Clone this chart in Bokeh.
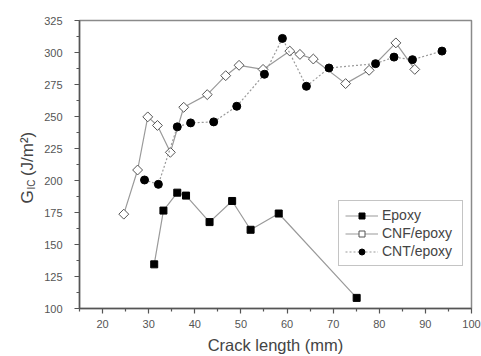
import math
from bokeh.plotting import figure
from bokeh.models import Range1d, FixedTicker, Label, Legend, LegendItem
from bokeh.embed import file_html
from bokeh.resources import INLINE

# Data
epoxy_x = [31.2, 33.2, 36.2, 38.1, 43.2, 48.1, 52.1, 58.2, 75.1]
epoxy_y = [134.5, 176.5, 190.5, 188.2, 167.5, 184.0, 161.5, 174.2, 108.3]

cnf_x = [24.6, 27.6, 29.8, 31.9, 34.7, 37.6, 42.7, 46.7, 49.6, 54.8, 60.6, 62.8, 65.7, 72.7, 77.8, 83.6, 87.7]
cnf_y = [173.7, 208.2, 249.7, 243.0, 222.0, 257.2, 267.1, 281.9, 290.0, 286.8, 301.1, 298.5, 294.9, 275.7, 286.1, 307.5, 286.8]

cnt_x = [29.1, 32.1, 36.2, 39.1, 44.1, 49.1, 55.1, 59.0, 64.2, 69.1, 79.2, 83.2, 87.2, 93.6]
cnt_y = [200.4, 197.0, 241.9, 245.0, 245.8, 258.0, 283.0, 311.0, 273.6, 287.9, 291.3, 296.4, 294.4, 301.1]

x_ticks = [20, 30, 40, 50, 60, 70, 80, 90, 100]
x_minor = [15, 25, 35, 45, 55, 65, 75, 85, 95]
y_ticks = [100, 125, 150, 175, 200, 225, 250, 275, 300, 325]
y_minor = [112.5, 137.5, 162.5, 187.5, 212.5, 237.5, 262.5, 287.5, 312.5]

FONT = "Liberation Sans"
AX = "#555555"
LINE = "#9a9a9a"

p = figure(width=481, height=356, output_backend="svg", toolbar_location=None,
           x_range=Range1d(15, 100), y_range=Range1d(100, 325),
           min_border_left=79, min_border_right=10, min_border_top=20, min_border_bottom=47)
p.background_fill_color = "white"
p.border_fill_color = "white"
p.outline_line_color = "#8a8a8a"
p.outline_line_width = 1.5
p.xgrid.visible = False
p.ygrid.visible = False

p.xaxis.ticker = FixedTicker(ticks=x_ticks, minor_ticks=x_minor)
p.yaxis.ticker = FixedTicker(ticks=y_ticks, minor_ticks=y_minor)
for ax in (p.xaxis[0], p.yaxis[0]):
    ax.axis_line_color = AX
    ax.axis_line_width = 1.5
    ax.major_tick_line_color = AX
    ax.minor_tick_line_color = AX
    ax.major_tick_line_width = 1.2
    ax.minor_tick_line_width = 1.2
    ax.major_tick_out = 5
    ax.major_tick_in = 0
    ax.minor_tick_out = 3
    ax.minor_tick_in = 0
    ax.major_label_text_font = FONT
    ax.major_label_text_font_size = "11px"
    ax.major_label_text_color = "#555555"
p.yaxis.major_label_standoff = 12
p.xaxis.major_label_standoff = 6
p.xaxis.axis_label = "Crack length (mm)"
p.xaxis.axis_label_text_font = FONT
p.xaxis.axis_label_text_font_size = "16.5px"
p.xaxis.axis_label_text_font_style = "normal"
p.xaxis.axis_label_text_color = "#444444"
p.xaxis.axis_label_standoff = 5

# Series
l1 = p.line(epoxy_x, epoxy_y, line_color=LINE, line_width=1.2)
m1 = p.scatter(epoxy_x, epoxy_y, marker="square", size=7, fill_color="black", line_color="black")
l2 = p.line(cnf_x, cnf_y, line_color=LINE, line_width=1.2)
m2 = p.scatter(cnf_x, cnf_y, marker="square", angle=math.pi / 4, size=7,
               fill_color="white", line_color="#555555", line_width=1)
l3 = p.line(cnt_x, cnt_y, line_color=LINE, line_width=1.2, line_dash="2 2")
m3 = p.scatter(cnt_x, cnt_y, marker="circle", size=8, fill_color="black", line_color="black")

legend = Legend(items=[LegendItem(label="Epoxy", renderers=[l1, m1]),
                       LegendItem(label="CNF/epoxy", renderers=[l2, m2]),
                       LegendItem(label="CNT/epoxy", renderers=[l3, m3])],
                location=(259, 42))
legend.border_line_color = "#8a8a8a"
legend.border_line_width = 1
legend.background_fill_alpha = 1
legend.padding = 6
legend.margin = 0
legend.spacing = 2
legend.glyph_width = 33
legend.glyph_height = 15
legend.label_standoff = 4
legend.label_height = 15
legend.label_width = 74
legend.label_text_font = FONT
legend.label_text_font_size = "14px"
legend.label_text_color = "#444444"
p.add_layout(legend, "center")

# Y-axis title: G_IC (J/m²) — main text plus subscript, canvas units in the left panel
def ylab(text, cx, cy, size):
    p.add_layout(Label(x=cx, y=cy, x_units="canvas", y_units="canvas", text=text,
                       angle=math.pi / 2, text_align="left", text_baseline="alphabetic",
                       text_font=FONT, text_font_size=size, text_color="#444444"), "left")

ylab("G\u00a0\u00a0\u00a0(J/m²)", 26.5, 203, "17px")
ylab("IC", 30.5, 189, "10px")

open("out.html", "w").write(file_html(p, INLINE))
